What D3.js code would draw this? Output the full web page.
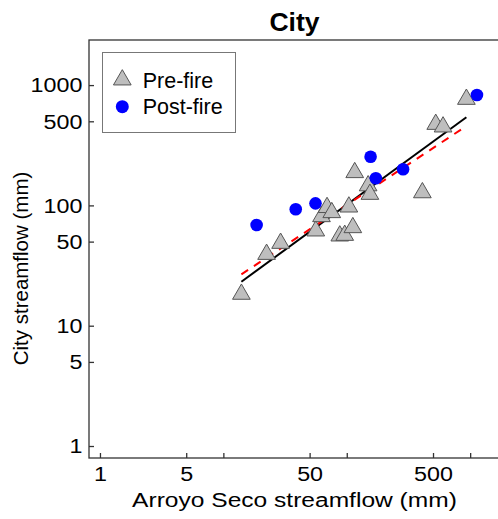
<!DOCTYPE html>
<html>
<head>
<meta charset="utf-8">
<script src="https://cdn.jsdelivr.net/npm/d3@7"></script>
<style>
    html, body { margin: 0; padding: 0; background: #fff; }
    svg { display: block; font-family: 'Liberation Sans', Arial, sans-serif; }
</style>
</head>
<body>
<script>
// pre-fire years (triangles)
var preX = [14.0, 22.4, 29.1, 56.1, 62.4, 69.2, 75.6, 87.8, 96.3, 104, 112, 116, 149, 154, 410, 526, 603, 932],
    preY = [19.2, 41.2, 50.9, 64.5, 84.8, 101, 91.6, 58.6, 59.3, 102, 68.7, 197, 153, 130, 134, 496, 472, 801];

// post-fire years (circles)
var postX = [18.6, 38.6, 55.8, 156, 172, 286, 1135],
    postY = [68.7, 92.8, 104, 254, 168, 200, 828];

// log10(y) = a + b*log10(x), drawn over the pre-fire x range
var preFit = [0.506, 0.750],
    allFit = [0.652, 0.676],
    fitRange = [14.0, 932];

var xTicks = [1, 5, 10, 50, 100, 500, 1000],
    xTickLabels = [1, 5, 50, 500],
    yTicks = [1, 5, 10, 50, 100, 500, 1000],
    yTickLabels = [1, 5, 10, 50, 100, 500, 1000];

var xLim = [0.815, 1745],
    yLim = [0.795, 2370];

var legendItems = ['Pre-fire', 'Post-fire'];

(function() {
    var width = 498,
        height = 519,
        left = 89,
        right = 500,
        top = 40,
        bottom = 458,
        axisColor = '#333',
        triW = 17.7,
        triH = 15.3,
        svg = d3.select('body').append('svg')
            .attr('width', width)
            .attr('height', height),
        x = d3.scaleLog().domain(xLim).range([left, right]),
        y = d3.scaleLog().domain(yLim).range([bottom, top]),
        triangle = function(w, h) {
            return 'M0,' + (-h/2) + 'L' + (w/2) + ',' + (h/2) + 'L' + (-w/2) + ',' + (h/2) + 'Z';
        },
        fitLine = function(coef) {
            return fitRange.map(function(v) {
                return [x(v), y(Math.pow(10, coef[0] + coef[1]*Math.log10(v)))];
            });
        },
        pre = preX.map(function(v, i) { return {x: v, y: preY[i]}; }),
        post = postX.map(function(v, i) { return {x: v, y: postY[i]}; });

    // axes with inward ticks
    var xAxis = svg.append('g')
        .attr('transform', 'translate(0,' + bottom + ')')
        .call(d3.axisBottom(x)
            .tickValues(xTicks)
            .tickSize(-5)
            .tickPadding(8)
            .tickFormat(function(d) { return xTickLabels.indexOf(d) >= 0 ? d : ''; }));

    var yAxis = svg.append('g')
        .attr('transform', 'translate(' + left + ',0)')
        .call(d3.axisLeft(y)
            .tickValues(yTicks)
            .tickSize(-5)
            .tickPadding(6)
            .tickFormat(function(d) { return yTickLabels.indexOf(d) >= 0 ? d : ''; }));

    [xAxis, yAxis].forEach(function(ax) {
        ax.select('.domain').remove();
        ax.selectAll('line').attr('stroke', axisColor).attr('stroke-width', 1.3);
        ax.selectAll('text')
            .attr('fill', '#000')
            .style('font-size', '21px')
            .attr('transform', 'scale(1.11,1)');
    });

    svg.append('rect')
        .attr('x', left)
        .attr('y', top)
        .attr('width', right - left)
        .attr('height', bottom - top)
        .attr('fill', 'none')
        .attr('stroke', axisColor)
        .attr('stroke-width', 1.3);

    // fitted lines
    svg.append('path')
        .attr('d', d3.line()(fitLine(preFit)))
        .attr('stroke', '#000')
        .attr('stroke-width', 2)
        .attr('fill', 'none');

    svg.append('path')
        .attr('d', d3.line()(fitLine(allFit)))
        .attr('stroke', '#f00')
        .attr('stroke-width', 2)
        .attr('stroke-dasharray', '8,7')
        .attr('fill', 'none');

    // points
    svg.append('g')
        .selectAll('path')
        .data(pre)
        .enter()
        .append('path')
        .attr('d', triangle(triW, triH))
        .attr('transform', function(d) { return 'translate(' + x(d.x) + ',' + y(d.y) + ')'; })
        .attr('fill', '#bebebe')
        .attr('stroke', '#555')
        .attr('stroke-width', 1);

    svg.append('g')
        .selectAll('circle')
        .data(post)
        .enter()
        .append('circle')
        .attr('cx', function(d) { return x(d.x); })
        .attr('cy', function(d) { return y(d.y); })
        .attr('r', 6.3)
        .attr('fill', '#0000ff');

    // titles
    svg.append('text')
        .attr('transform', 'translate(294.5,30.5)')
        .attr('text-anchor', 'middle')
        .style('font-size', '26.5px')
        .style('font-weight', 'bold')
        .text('City');

    svg.append('text')
        .attr('transform', 'translate(294.5,506.5) scale(1.17,1)')
        .attr('text-anchor', 'middle')
        .style('font-size', '21px')
        .text('Arroyo Seco streamflow (mm)');

    svg.append('text')
        .attr('transform', 'translate(28,268.5) rotate(-90)')
        .attr('text-anchor', 'middle')
        .style('font-size', '20.5px')
        .text('City streamflow (mm)');

    // legend
    var legend = svg.append('g');

    legend.append('rect')
        .attr('x', 102.5)
        .attr('y', 52.5)
        .attr('width', 133)
        .attr('height', 80)
        .attr('fill', '#fff')
        .attr('stroke', '#777')
        .attr('stroke-width', 1);

    legend.append('path')
        .attr('d', triangle(triW, triH))
        .attr('transform', 'translate(122.3,77.3)')
        .attr('fill', '#bebebe')
        .attr('stroke', '#555');

    legend.append('circle')
        .attr('cx', 122.3)
        .attr('cy', 106.7)
        .attr('r', 6.5)
        .attr('fill', '#0000ff');

    legend.selectAll('text.lab')
        .data(legendItems)
        .enter()
        .append('text')
        .attr('class', 'lab')
        .attr('x', 142.7)
        .attr('y', function(d, i) { return i ? 114 : 87.7; })
        .style('font-size', '21.5px')
        .text(function(d) { return d; });
})();
</script>
</body>
</html>
